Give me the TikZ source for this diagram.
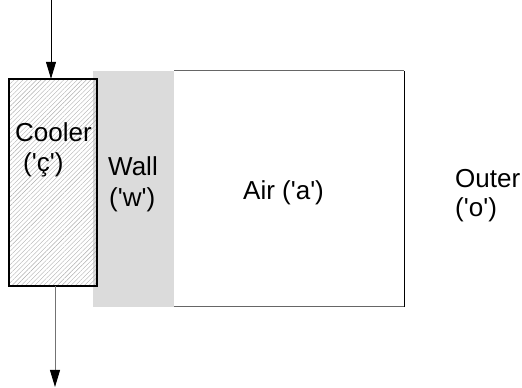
\documentclass[tikz,border=0pt]{standalone}
\usepackage{fontspec}
\setmainfont{Liberation Sans}
\usetikzlibrary{arrows.meta,patterns.meta}
\newcommand{\qq}{\textquotesingle}
\begin{document}
\begin{tikzpicture}[x=1pt,y=1pt,
  lbl/.style={inner sep=0pt,anchor=base west,font=\fontsize{26}{30}\selectfont},
  wallbox/.style={fill=black!14,draw=none,inner sep=0pt,minimum width=81pt,minimum height=236pt},
  coolerbox/.style={draw=black,line width=1.1pt,inner sep=0pt,minimum width=88pt,minimum height=207pt,
    pattern={Lines[angle=45,distance=3.2pt,line width=0.4pt]},pattern color=black!32},
  airline/.style={draw=black!60,line width=1pt},
  flow/.style={line width=0.9pt,-{Triangle[length=17pt,width=10pt,color=black]}}
]
\useasboundingbox (0,0) rectangle (522,388);
% air box
\coordinate (atl) at (174,317);
\coordinate (atr) at (404,317);
\coordinate (abr) at (404,81);
\coordinate (abl) at (174,81);
\draw[airline] (atl) -- (atr);
\draw[airline] (abl) -- (abr);
\draw[line width=1pt,black] (atr) -- (abr);
% wall
\node[wallbox] (wall) at (133.5,199) {};
% cooler
\node[coolerbox] (cooler) at (53,205.5) {};
% arrows
\coordinate (topstart) at (51,388);
\draw[flow,black] (topstart) -- (topstart |- cooler.north);
\coordinate (botx) at (55,0);
\coordinate (botend) at (55,1);
\draw[flow,black!55] (botx |- cooler.south) -- (botend);
% labels
\node[lbl] (cool1) at (15,246) {Cooler};
\node[lbl] (cool2) at (23,216) {(\qq ç\qq)};
\node[lbl] (wall1) at (108,212) {Wall};
\node[lbl] (wall2) at (109,181) {(\qq w\qq)};
\node[lbl] (air) at (243,188) {Air (\qq a\qq)};
\node[lbl] (out1) at (455,200) {Outer};
\node[lbl] (out2) at (455,171) {(\qq o\qq)};
\end{tikzpicture}
\end{document}
